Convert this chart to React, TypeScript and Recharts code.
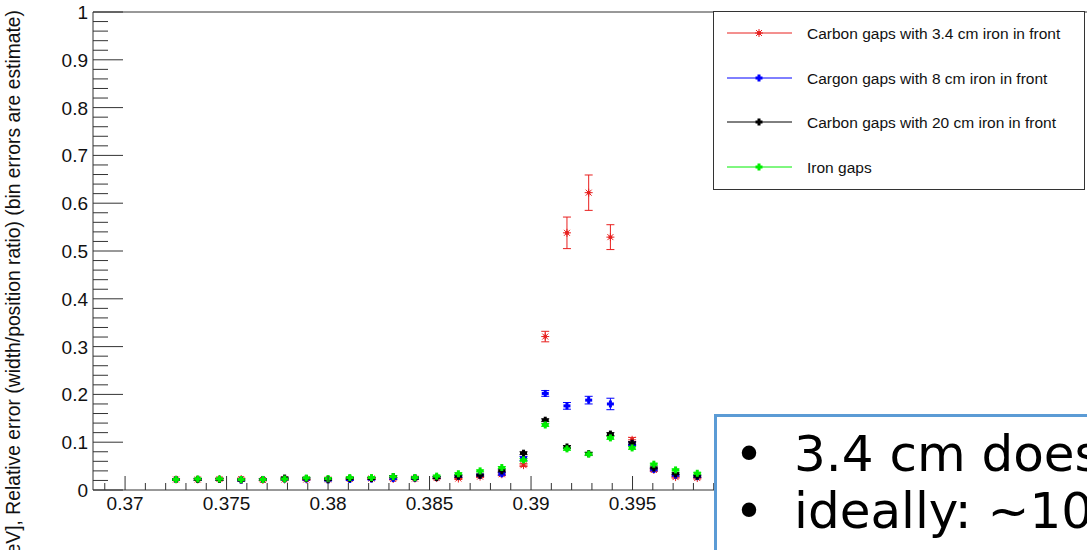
import React from 'react';
import { ScatterChart, Scatter, XAxis, YAxis, ErrorBar, ReferenceLine } from 'recharts';

// bin centres
const binCenters = [
  0.37251, 0.37358, 0.37465, 0.37572, 0.37679, 0.37786, 0.37893, 0.38, 0.38107, 0.38214,
  0.38321, 0.38428, 0.38535, 0.38642, 0.38749, 0.38856, 0.38963, 0.3907, 0.39177, 0.39284,
  0.39391, 0.39498, 0.39605, 0.39712, 0.39819,
];

const carbon34 = [
  0.022, 0.022, 0.023, 0.023, 0.021, 0.022, 0.022, 0.022, 0.023, 0.024,
  0.023, 0.024, 0.025, 0.024, 0.028, 0.033, 0.052, 0.321, 0.538, 0.622,
  0.529, 0.105, 0.042, 0.027, 0.025,
];
const carbon34Err = [
  0.002, 0.002, 0.002, 0.002, 0.002, 0.002, 0.002, 0.002, 0.002, 0.002,
  0.002, 0.002, 0.002, 0.002, 0.002, 0.003, 0.003, 0.011, 0.033, 0.037,
  0.026, 0.005, 0.003, 0.002, 0.002,
];

const carbon8 = [
  0.022, 0.022, 0.022, 0.021, 0.022, 0.023, 0.023, 0.021, 0.022, 0.023,
  0.024, 0.025, 0.026, 0.029, 0.031, 0.034, 0.066, 0.202, 0.176, 0.188,
  0.18, 0.097, 0.043, 0.031, 0.028,
];
const carbon8Err = [
  0.002, 0.002, 0.002, 0.002, 0.002, 0.002, 0.002, 0.002, 0.002, 0.002,
  0.002, 0.002, 0.002, 0.002, 0.002, 0.003, 0.004, 0.006, 0.007, 0.008,
  0.012, 0.004, 0.003, 0.002, 0.002,
];

const carbon20 = [
  0.022, 0.022, 0.022, 0.021, 0.022, 0.025, 0.024, 0.022, 0.024, 0.024,
  0.028, 0.025, 0.026, 0.029, 0.031, 0.04, 0.077, 0.146, 0.09, 0.076,
  0.117, 0.098, 0.046, 0.034, 0.029,
];
const carbon20Err = [
  0.002, 0.002, 0.002, 0.002, 0.002, 0.002, 0.002, 0.002, 0.002, 0.002,
  0.002, 0.002, 0.002, 0.002, 0.002, 0.002, 0.003, 0.003, 0.003, 0.003,
  0.003, 0.003, 0.002, 0.002, 0.002,
];

const iron = [
  0.022, 0.023, 0.023, 0.022, 0.022, 0.023, 0.025, 0.024, 0.026, 0.026,
  0.028, 0.026, 0.029, 0.034, 0.04, 0.047, 0.063, 0.136, 0.086, 0.075,
  0.109, 0.088, 0.054, 0.042, 0.035,
];
const ironErr = [
  0.002, 0.002, 0.002, 0.002, 0.002, 0.002, 0.002, 0.002, 0.002, 0.002,
  0.002, 0.002, 0.002, 0.002, 0.002, 0.002, 0.003, 0.003, 0.003, 0.003,
  0.003, 0.003, 0.002, 0.002, 0.002,
];

// labelled ticks that are visible (the rest sits under the note box)
const xLabels = [0.37, 0.375, 0.38, 0.385, 0.39, 0.395];
const yLabels = [0, 0.1, 0.2, 0.3, 0.4, 0.5, 0.6, 0.7, 0.8, 0.9, 1];

const X_MIN = 0.36842;
const X_MAX = 0.41803;
const xTicks = Array.from({ length: 31 }, (_, k) => +(0.369 + 0.001 * k).toFixed(3));
const yTicks = Array.from({ length: 51 }, (_, k) => +(0.02 * k).toFixed(2));

const FRAME = '#333';
const FONT = '"Liberation Sans", Arial, Helvetica, sans-serif';

const RED = '#e8201f';
const BLUE = '#0000ff';
const BLACK = '#000000';
const GREEN = '#00ee00';

const series = [
  { name: 'Carbon gaps with 3.4 cm iron in front', ys: carbon34, errs: carbon34Err, color: RED, star: true },
  { name: 'Cargon gaps with 8 cm iron in front', ys: carbon8, errs: carbon8Err, color: BLUE, star: false },
  { name: 'Carbon gaps with 20 cm iron in front', ys: carbon20, errs: carbon20Err, color: BLACK, star: false },
  { name: 'Iron gaps', ys: iron, errs: ironErr, color: GREEN, star: false },
];

const isLabel = (list: number[], v: number) => list.some((l) => Math.abs(l - v) < 1e-7);
const isMajorX = (v: number) => Math.abs(v / 0.005 - Math.round(v / 0.005)) < 1e-6;

const Star = ({ cx, cy, color }: { cx: number; cy: number; color: string }) => (
  <g stroke={color} strokeWidth={1}>
    <line x1={cx - 4} y1={cy} x2={cx + 4} y2={cy} />
    <line x1={cx} y1={cy - 4} x2={cx} y2={cy + 4} />
    <line x1={cx - 3} y1={cy - 3} x2={cx + 3} y2={cy + 3} />
    <line x1={cx - 3} y1={cy + 3} x2={cx + 3} y2={cy - 3} />
    <circle cx={cx} cy={cy} r={1.5} fill={color} />
  </g>
);

const Plus = ({ cx, cy, color }: { cx: number; cy: number; color: string }) => (
  <g fill={color}>
    <rect x={cx - 3.5} y={cy - 1.5} width={7} height={3} />
    <rect x={cx - 1.5} y={cy - 3.5} width={3} height={7} />
  </g>
);

const XTick = (props: any) => {
  const { x, y, payload } = props;
  const major = isMajorX(payload.value);
  return (
    <g>
      <line x1={x} x2={x} y1={y} y2={y - (major ? 14 : 7)} stroke={FRAME} />
      {isLabel(xLabels, payload.value) && (
        <text x={x} y={y + 20} textAnchor="middle" fontSize={19} fontFamily={FONT} fill="#111">
          {String(payload.value)}
        </text>
      )}
    </g>
  );
};

const YTick = (props: any) => {
  const { x, y, payload } = props;
  const major = isLabel(yLabels, payload.value);
  return (
    <g>
      <line x1={x} x2={x + (major ? 30 : 15)} y1={y} y2={y} stroke={FRAME} />
      {major && (
        <text x={x - 5} y={y + 7} textAnchor="end" fontSize={19} fontFamily={FONT} fill="#111">
          {String(payload.value)}
        </text>
      )}
    </g>
  );
};

const legendRows = [33, 78, 122, 167];

const App = () => {
  return (
    <div style={{ position: 'absolute', left: 0, top: 0, width: 1087, height: 550, overflow: 'hidden', background: '#fff' }}>
      <ScatterChart width={1100} height={550} margin={{ top: 12, right: 0, bottom: 59, left: 92 }}>
        <XAxis
          type="number"
          dataKey="x"
          domain={[X_MIN, X_MAX]}
          allowDataOverflow
          ticks={xTicks}
          interval={0}
          tick={(p: any) => <XTick {...p} />}
          tickLine={false}
          tickSize={0}
          tickMargin={0}
          height={1}
          axisLine={{ stroke: FRAME }}
        />
        <YAxis
          type="number"
          dataKey="y"
          domain={[0, 1]}
          allowDataOverflow
          ticks={yTicks}
          interval={0}
          tick={(p: any) => <YTick {...p} />}
          tickLine={false}
          tickSize={0}
          tickMargin={0}
          width={1}
          axisLine={{ stroke: FRAME }}
        />
        <ReferenceLine y={1} stroke={FRAME} />
        {series.map((s) => (
          <Scatter
            key={s.name}
            name={s.name}
            data={binCenters.map((x, i) => ({ x, y: s.ys[i], err: s.errs[i] }))}
            isAnimationActive={false}
            shape={(p: any) =>
              s.star ? <Star cx={p.cx} cy={p.cy} color={s.color} /> : <Plus cx={p.cx} cy={p.cy} color={s.color} />
            }
          >
            <ErrorBar dataKey="err" direction="y" width={4} stroke={s.color} strokeWidth={1} isAnimationActive={false} />
          </Scatter>
        ))}
      </ScatterChart>

      {/* y axis title */}
      <svg style={{ position: 'absolute', left: 0, top: 0 }} width={40} height={550}>
        <text transform="translate(20,10) rotate(-90)" textAnchor="end" fontSize={19.3} fontFamily={FONT} fill="#111">
          Width [GeV], Relative error (width/position ratio) (bin errors are estimate)
        </text>
      </svg>

      {/* legend */}
      <svg style={{ position: 'absolute', left: 0, top: 0 }} width={1087} height={200}>
        <rect x={713.5} y={11.5} width={371} height={178} fill="#fff" stroke={FRAME} />
        {series.map((s, i) => (
          <g key={s.name}>
            <line x1={727} x2={792} y1={legendRows[i]} y2={legendRows[i]} stroke={s.color} />
            {s.star ? <Star cx={759} cy={legendRows[i]} color={s.color} /> : <Plus cx={759} cy={legendRows[i]} color={s.color} />}
            <text x={807} y={legendRows[i] + 5.5} fontSize={15.5} fontFamily={FONT} fill="#111">
              {s.name}
            </text>
          </g>
        ))}
      </svg>

      {/* annotation box */}
      <div
        style={{
          position: 'absolute',
          left: 714,
          top: 414,
          width: 400,
          height: 160,
          boxSizing: 'border-box',
          border: '3px solid #5b9bd5',
          background: '#fff',
        }}
      />
      <svg style={{ position: 'absolute', left: 0, top: 0 }} width={1087} height={550}>
        <g fontFamily='"DejaVu Sans", Verdana, sans-serif' fontSize={50} fill="#000">
          <text x={749} y={471} textAnchor="middle">•</text>
          <text x={794} y={471}>3.4 cm does</text>
          <text x={749} y={528} textAnchor="middle">•</text>
          <text x={794} y={528}>ideally: ~10-</text>
        </g>
      </svg>
    </div>
  );
};

export default App;
